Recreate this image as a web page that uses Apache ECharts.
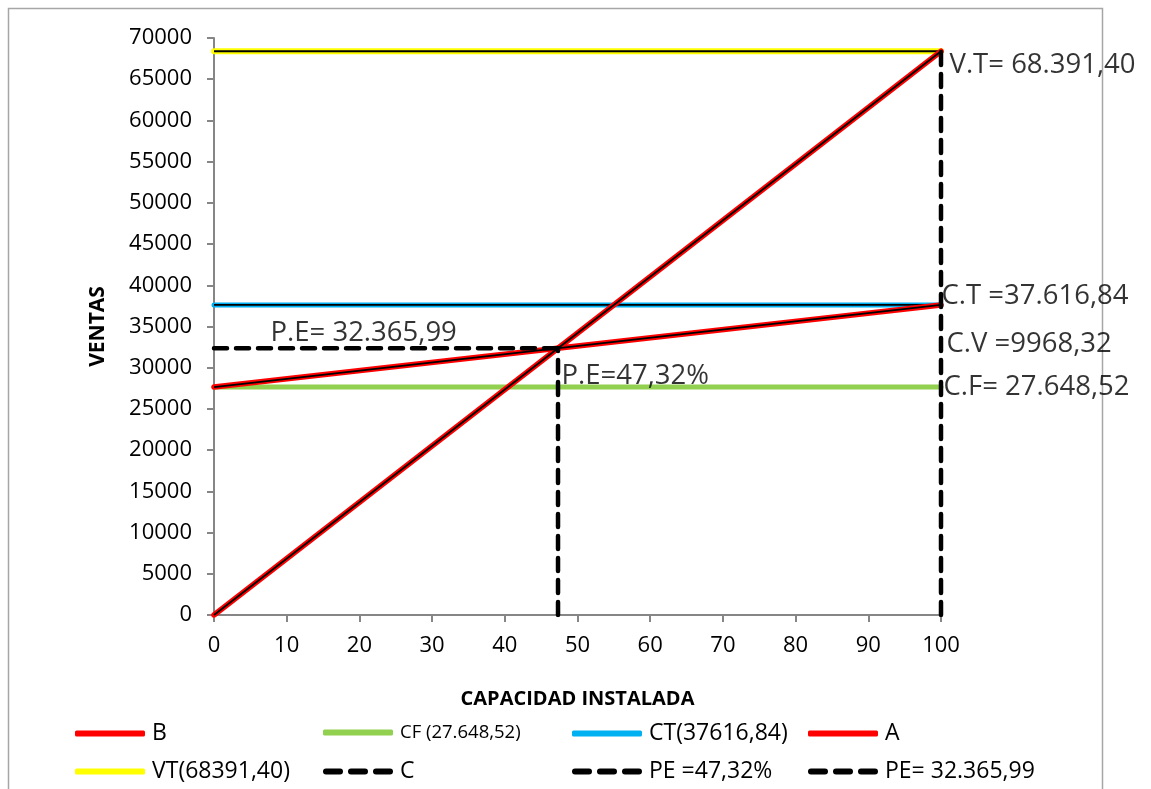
<!DOCTYPE html>
<html>
<head>
<meta charset="utf-8">
<script src="https://cdn.jsdelivr.net/npm/echarts@6/dist/echarts.min.js"></script>
<style>
html,body{margin:0;padding:0;background:#fff;}
#c{width:1151px;height:789px;}
</style>
</head>
<body>
<div id="c"></div>
<script>
// ---- data ----
const capX = [0, 100];                 // capacidad instalada (%)
const ventasA = [0, 68391.40];         // A: ventas
const costosB = [27648.52, 37616.84];  // B: costo total
const CF = 27648.52;
const CT = 37616.84;
const VT = 68391.40;
const CV = 9968.32;
const PE_PCT = 47.32;
const PE_VAL = 32365.99;
const yTicks = [0, 70000, 5000];
const xTicks = [0, 100, 10];

const FONT = '"Open Sans", "Noto Sans", sans-serif';
const RED = '#FF0000', GREEN = '#92D050', BLUE = '#00B0F0', YELLOW = '#FFFF00', BLACK = '#000000';

const pts = (xs, ys) => xs.map((x, i) => [x, ys[i]]);
const flat = v => capX.map(x => [x, v]);

const solid = (name, data, color, w, z) => ({
  name, type: 'line', data, symbol: 'none', z,
  itemStyle: {color},
  lineStyle: {color, width: w, cap: 'round'},
  emphasis: {disabled: true}, silent: true
});
const core = (data, z) => ({
  type: 'line', data, symbol: 'none', z,
  itemStyle: {color: BLACK},
  lineStyle: {color: BLACK, width: 1.8},
  emphasis: {disabled: true}, silent: true
});
const dashed = (name, data, z) => ({
  name, type: 'line', data, symbol: 'none', z,
  itemStyle: {color: BLACK},
  lineStyle: {color: BLACK, width: 4.5, type: [13, 9], cap: 'round'},
  emphasis: {disabled: true}, silent: true
});
const note = (text, pt, offset) => ({
  type: 'scatter', data: [pt], symbolSize: 1, z: 20, silent: true,
  itemStyle: {color: 'rgba(0,0,0,0)'},
  label: {show: true, position: 'right', distance: 0, offset, formatter: text,
          color: '#000', fontSize: 27.5, fontFamily: FONT}
});

const dashIcon = 'path://M3,0h14a3,3 0 0 1 0,6h-14a3,3 0 0 1 0,-6zM28,0h14a3,3 0 0 1 0,6h-14a3,3 0 0 1 0,-6zM53,0h14a3,3 0 0 1 0,6h-14a3,3 0 0 1 0,-6z';
const legendAt = (name, icon, left, top, fs) => ({
  data: [{name, icon}], left, top, padding: 0, itemWidth: 70, itemHeight: 6, itemGap: 0,
  selectedMode: false,
  textStyle: {fontSize: fs || 23, fontFamily: FONT, color: '#000', padding: [0, 0, 0, 2]}
});

const chart = echarts.init(document.getElementById('c'), null, {renderer: 'canvas'});
chart.setOption({
  animation: false,
  backgroundColor: '#fff',
  graphic: [{
    type: 'rect', shape: {x: 8.5, y: 8.5, width: 1094, height: 800},
    style: {fill: 'none', stroke: '#A6A6A6', lineWidth: 1.5}, silent: true
  }],
  grid: {left: 214, right: 210, top: 38, bottom: 174, containLabel: false},
  xAxis: {
    type: 'value', min: xTicks[0], max: xTicks[1], interval: xTicks[2],
    name: 'CAPACIDAD INSTALADA', nameLocation: 'middle', nameGap: 74,
    nameTextStyle: {fontSize: 20, fontWeight: 'bold', fontFamily: FONT, color: '#000'},
    axisLine: {show: true, lineStyle: {color: '#868686', width: 2}},
    axisTick: {show: true, length: 7, lineStyle: {color: '#868686', width: 2}},
    axisLabel: {fontSize: 22, fontFamily: FONT, color: '#000', margin: 20},
    splitLine: {show: false}
  },
  yAxis: {
    type: 'value', min: yTicks[0], max: yTicks[1], interval: yTicks[2],
    name: 'VENTAS', nameLocation: 'middle', nameGap: 105, nameRotate: 90,
    nameTextStyle: {fontSize: 21, fontWeight: 'bold', fontFamily: FONT, color: '#000'},
    axisLine: {show: true, lineStyle: {color: '#868686', width: 2}},
    axisTick: {show: true, length: 7, lineStyle: {color: '#868686', width: 2}},
    axisLabel: {fontSize: 22, fontFamily: FONT, color: '#000', margin: 22,
                formatter: v => String(v)},
    splitLine: {show: false}
  },
  legend: [
    legendAt('B', 'roundRect', 75, 722),
    legendAt('CF (27.648,52)', 'roundRect', 323, 723, 18.5),
    legendAt('CT(37616,84)', 'roundRect', 572, 722),
    legendAt('A', 'roundRect', 808, 722),
    legendAt('VT(68391,40)', 'roundRect', 75, 760),
    legendAt('C', dashIcon, 323, 760),
    legendAt('PE =47,32%', dashIcon, 572, 760),
    legendAt('PE= 32.365,99', dashIcon, 808, 760)
  ],
  series: [
    solid('CF (27.648,52)', flat(CF), GREEN, 5, 2),
    solid('CT(37616,84)', flat(CT), BLUE, 5, 2),
    core(flat(CT), 3),
    solid('VT(68391,40)', flat(VT), YELLOW, 6, 2),
    core(flat(VT), 3),
    solid('B', pts(capX, costosB), RED, 5.5, 4),
    core(pts(capX, costosB), 5),
    solid('A', pts(capX, ventasA), RED, 5.5, 4),
    core(pts(capX, ventasA), 5),
    dashed('C', [[capX[1], 0], [capX[1], VT]], 8),
    dashed('PE =47,32%', [[PE_PCT, 0], [PE_PCT, PE_VAL]], 8),
    dashed('PE= 32.365,99', [[capX[0], PE_VAL], [PE_PCT, PE_VAL]], 8),
    note('V.T= 68.391,40', [capX[1], VT], [8, 14]),
    note('C.T =37.616,84', [capX[1], CT], [0, -9]),
    note('C.V =' + '9968,32', [capX[1], (CT + CF) / 2], [5, -2]),
    note('C.F= 27.648,52', [capX[1], CF], [2, 0]),
    note('P.E= 32.365,99', [capX[0], PE_VAL], [56, -15]),
    note('P.E=47,32%', [PE_PCT, PE_VAL], [3, 28])
  ]
});
</script>
</body>
</html>
